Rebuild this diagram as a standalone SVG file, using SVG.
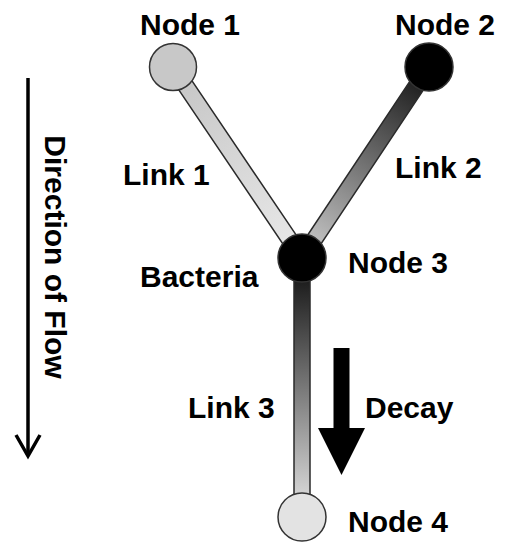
<svg xmlns="http://www.w3.org/2000/svg" width="507" height="543" viewBox="0 0 507 543">
<style>
  .lbl { font-family: "Liberation Sans", Arial, sans-serif; font-weight: bold; font-size: 30px; fill: #000; }
  .link { stroke: #2a2a2a; stroke-width: 1.5; }
  .node { stroke: #333; stroke-width: 1.5; }
</style>
<defs>
  <linearGradient id="g1" x1="0" y1="0" x2="0" y2="1">
    <stop offset="0" stop-color="#c4c4c4"/>
    <stop offset="1" stop-color="#eaeaea"/>
  </linearGradient>
  <linearGradient id="g2" x1="0" y1="0" x2="0" y2="1">
    <stop offset="0" stop-color="#101010"/>
    <stop offset="1" stop-color="#d0d0d0"/>
  </linearGradient>
  <linearGradient id="g3" x1="0" y1="0" x2="0" y2="1">
    <stop offset="0" stop-color="#0a0a0a"/>
    <stop offset="1" stop-color="#e6e6e6"/>
  </linearGradient>
</defs>
<rect width="507" height="543" fill="#fff"/>
<g id="connectors">
  <g id="link1">
    <rect class="link" x="-8" y="0" width="16" height="230.5" fill="url(#g1)" transform="translate(173,67) rotate(-34.04)"/>
    <text class="lbl" x="123" y="185">Link 1</text>
  </g>
  <g id="link2">
    <rect class="link" x="-8" y="0" width="16" height="229.4" fill="url(#g2)" transform="translate(429,67) rotate(33.62)"/>
    <text class="lbl" x="395" y="178">Link 2</text>
  </g>
  <g id="link3">
    <rect class="link" x="294" y="258" width="16" height="259" fill="url(#g3)"/>
    <text class="lbl" x="188" y="418">Link 3</text>
  </g>
</g>
<g id="node1">
  <circle class="node" cx="173" cy="67" r="23.5" fill="#c8c8c8"/>
  <text class="lbl" x="140" y="35">Node 1</text>
</g>
<g id="node2">
  <circle class="node" cx="429" cy="67" r="24" fill="#000"/>
  <text class="lbl" x="395" y="35">Node 2</text>
</g>
<g id="node3">
  <circle class="node" cx="302" cy="258" r="24" fill="#000"/>
  <text class="lbl" x="348" y="273">Node 3</text>
  <text class="lbl" x="140" y="287">Bacteria</text>
</g>
<g id="node4">
  <circle class="node" cx="302" cy="517" r="24" fill="#e3e3e3"/>
  <text class="lbl" x="348" y="532">Node 4</text>
</g>
<g id="decay">
  <polygon points="333.5,348 349.5,348 349.5,428 365,428 341.5,475 318,428 333.5,428" fill="#000"/>
  <text class="lbl" x="365" y="418">Decay</text>
</g>
<g id="flow">
  <line x1="28" y1="78" x2="28" y2="455" stroke="#000" stroke-width="3.5"/>
  <polyline points="16,435 28,456 40,435" fill="none" stroke="#000" stroke-width="3.5" stroke-linejoin="miter"/>
  <text class="lbl" transform="translate(45,257) rotate(90)" text-anchor="middle">Direction of Flow</text>
</g>
</svg>
